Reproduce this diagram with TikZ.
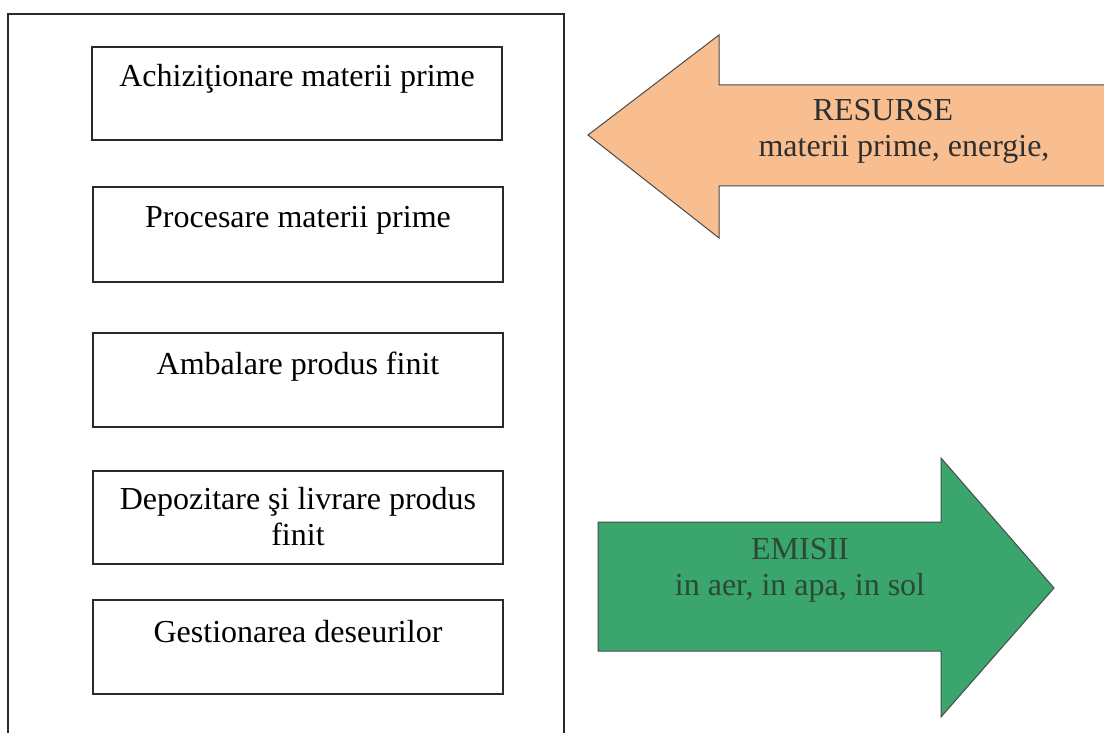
\documentclass[tikz,border=0pt]{standalone}
\usepackage{fontspec}
\setmainfont{Liberation Serif}
\definecolor{boxline}{HTML}{2A2A2A}
\definecolor{arrowline}{HTML}{4A4A4A}
\definecolor{peach}{HTML}{F9BE8F}
\definecolor{emgreen}{HTML}{3AA56D}
\definecolor{greentext}{HTML}{2B4A36}
\definecolor{peachtext}{HTML}{2F2F2F}
\tikzset{
  stagebox/.style={draw=boxline, line width=1.5pt, fill=white},
  stagetext/.style={anchor=base, inner sep=0pt, font=\fontsize{32}{36}\selectfont, align=center},
  arrowtext/.style={anchor=base, inner sep=0pt, font=\fontsize{32}{36}\selectfont},
}
\begin{document}
\begin{tikzpicture}[x=1pt, y=-1pt]
\useasboundingbox (0,0) rectangle (1104,733);
\clip (0,0) rectangle (1104,733);
\fill[white] (0,0) rectangle (1104,733);
% outer frame (bottom edge outside the picture)
\draw[boxline, line width=1.4pt] (8,745) -- (8,14) -- (564,14) -- (564,745);
% stage boxes
\draw[stagebox] (92,47) rectangle (502,140);
\coordinate (b1) at (297,47);
\draw[stagebox] (93,187) rectangle (503,282);
\coordinate (b2) at (298,187);
\draw[stagebox] (93,333) rectangle (503,427);
\coordinate (b3) at (298,333);
\draw[stagebox] (93,471) rectangle (503,564);
\coordinate (b4) at (298,471);
\draw[stagebox] (93,600) rectangle (503,694);
\coordinate (b5) at (298,600);
\node[stagetext] (t1) at ([yshift=-40pt]b1) {Achiziţionare materii prime};
\node[stagetext] (t2) at ([yshift=-41pt]b2) {Procesare materii prime};
\node[stagetext] (t3) at ([yshift=-41pt]b3) {Ambalare produs finit};
\node[stagetext] (t4) at ([yshift=-38pt]b4) {Depozitare şi livrare produs};
\node[stagetext] (t4b) at ([yshift=-74pt]b4) {finit};
\node[stagetext] (t5) at ([yshift=-42pt]b5) {Gestionarea deseurilor};
% resources arrow (pointing left)
\draw[arrowline, line width=1pt, fill=peach, line join=miter]
  (1115,85) -- (719,85) -- (719,35) -- (588,135) -- (719,238) -- (719,186) -- (1115,186);
\node[arrowtext, text=peachtext] (res1) at (883,121) {RESURSE};
\node[arrowtext, text=peachtext] (res2) at (904,157) {materii prime, energie,};
% emissions arrow (pointing right)
\draw[arrowline, line width=1pt, fill=emgreen, line join=miter]
  (598,522) -- (941,522) -- (941,458) -- (1054,588) -- (941,717) -- (941,651) -- (598,651) -- cycle;
\node[arrowtext, text=greentext] (em1) at (800,559) {EMISII};
\node[arrowtext, text=greentext] (em2) at (800,595) {in aer, in apa, in sol};
\end{tikzpicture}
\end{document}
